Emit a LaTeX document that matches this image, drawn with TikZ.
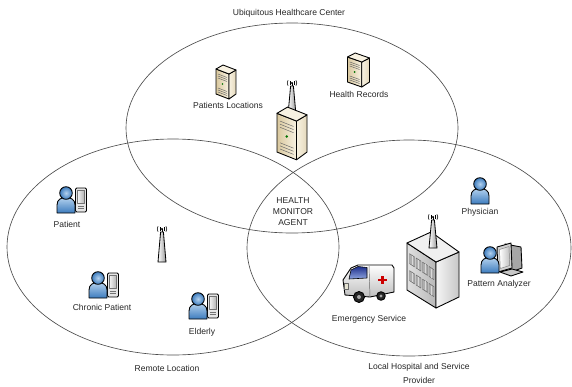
\documentclass[tikz,border=0pt]{standalone}
\usepackage{fontspec}
\setmainfont{Liberation Sans}

\definecolor{pblueL}{HTML}{B3D1EE}
\definecolor{pblueD}{HTML}{3C7BBD}
\definecolor{beigeL}{HTML}{F8F2E2}
\definecolor{beigeD}{HTML}{D9C89E}
\definecolor{glassD}{HTML}{1E2F8C}
\definecolor{glassL}{HTML}{8FA6E0}

\tikzset{
  zone/.style={draw=black!70, line width=0.55pt},
  lbl/.style={font=\fontsize{7.3}{8.8}\selectfont, text=black!85, inner sep=0pt, align=center},
  icon/.style={draw=black, line width=0.75pt, line join=round},
  thinline/.style={line width=0.4pt},
  % blue user silhouette
  pics/person/.style={code={
    \draw[icon, top color=pblueL, bottom color=pblueD]
      (-9,-13) -- (-9,-5) .. controls (-9,0.5) and (-5,2.5) .. (0,2.5)
      .. controls (5,2.5) and (9,0.5) .. (9,-5) -- (9,-13) -- cycle;
    \draw[icon, inner color=pblueL, outer color=pblueD] (0,7) circle [radius=6.3];
  }},
  % handheld device
  pics/pda/.style={code={
    \draw[icon, fill=black!10, rounded corners=1pt] (-5.5,-12) rectangle (5.5,12);
    \draw[black!55, thinline, left color=black!5, right color=black!30] (-3.5,-3) rectangle (3.5,9.5);
    \draw[black!55, thinline] (-3,-6) -- (3,-6) (-3,-8.5) -- (3,-8.5);
  }},
  pics/mobileuser/.style={code={
    \pic at (15,0) {pda};
    \pic at (0,0) {person};
  }},
  % beige tower server
  pics/server/.style={code={
    \draw[icon, left color=beigeD, right color=beigeL] (-10,-11) -- (3,-16) -- (3,9) -- (-10,14) -- cycle;
    \draw[icon, left color=beigeL, right color=beigeD!70!white] (3,-16) -- (10,-11) -- (10,13) -- (3,9) -- cycle;
    \draw[icon, fill=beigeL] (-10,14) -- (3,9) -- (10,13) -- (-3,18) -- cycle;
    \draw[black!60, thinline] (-8,9) -- (1,5.5) (-8,7) -- (1,3.5) (-8,5) -- (1,1.5);
    \fill[green!45!black] (-3.5,-1) circle [radius=0.9];
    \draw[black!60, thinline] (-8,-5) -- (1,-8.5) (-8,-7) -- (1,-10.5) (-8,-9) -- (1,-12.5);
  }},
  % radio mast, #1 = mast height
  pics/antenna/.style={code={
    \draw[icon, line width=0.7pt, left color=white, right color=black!40]
      (-4,0) -- (4,0) -- (1.4,#1) -- (-1.4,#1) -- cycle;
    \begin{scope}[shift={(0,#1+3)}]
      \draw[line width=0.8pt] (0,-3) -- (0,0);
      \fill (0,0) circle [radius=1.2];
      \draw[line width=0.45pt] (145:2.7) arc [start angle=145, end angle=215, radius=2.7];
      \draw[line width=0.45pt] (145:4.8) arc [start angle=145, end angle=215, radius=4.8];
      \draw[line width=0.45pt] (-35:2.7) arc [start angle=-35, end angle=35, radius=2.7];
      \draw[line width=0.45pt] (-35:4.8) arc [start angle=-35, end angle=35, radius=4.8];
    \end{scope}
  }},
}

\begin{document}
\begin{tikzpicture}[x=0.03cm, y=0.03cm, line join=round]
\useasboundingbox (0,0) rectangle (572,-386);

% the three overlapping zones
\draw[zone] (292,-128) ellipse [x radius=166, y radius=105];
\draw[zone] (173,-247) ellipse [x radius=166, y radius=108];
\draw[zone] (409,-248) ellipse [x radius=162, y radius=108];

% ---- healthcare center ----
\pic at (226,-83) {server};
\pic[xscale=1.1] at (358.5,-71) {server};
\pic at (292,-115) {antenna=29};
\pic[xscale=1.5, yscale=1.55] at (292,-135) {server};

% ---- remote location ----
\pic at (66,-200) {mobileuser};
\pic at (98,-285) {mobileuser};
\pic at (198,-306) {mobileuser};
\pic at (162,-262) {antenna=30};

% ---- hospital building ----
\draw[icon, left color=black!12, right color=black!28]
  (407,-243) -- (436,-262) -- (436,-308) -- (407,-290) -- cycle;
\draw[icon, left color=black!4, right color=black!22]
  (436,-262) -- (459,-252) -- (459,-297) -- (436,-308) -- cycle;
\draw[icon, fill=black!6]
  (407,-243) -- (431,-232) -- (459,-252) -- (436,-262) -- cycle;
\begin{scope}[shift={(407,-243)}, yslant=-0.655]
  \foreach \wx in {2.5,9,15.5,22}{
    \foreach \wy in {-9,-26}{
      \draw[black!60, thinline, fill=black!32] (\wx,\wy) rectangle ++(5,-10);
      \draw[black!15, thinline] (\wx+2.5,\wy-0.5) -- ++(0,-9);
    }
  }
\end{scope}
\pic at (433,-248) {antenna=28};

% ---- ambulance ----
\draw[icon, top color=white, bottom color=black!25]
  (343,-280) -- (351,-268) -- (358,-265) -- (392,-265) -- (394,-268)
  -- (394,-292) -- (370,-297) -- (345,-295) -- cycle;
\draw[black!60, thinline] (369,-266) -- (370,-297);
\draw[black, line width=0.5pt, top color=glassD, bottom color=glassL]
  (351,-270) -- (358,-266.5) -- (367,-267.5) -- (367,-278) -- (349,-279) -- cycle;
\fill[red!80!black] (381,-275.5) rectangle (383.6,-284);
\fill[red!80!black] (378,-278.5) rectangle (386.6,-281.1);
\draw[black!60, thinline, fill=yellow!40!black!20] (344.5,-283) rectangle (348.5,-289);
\draw[icon, fill=black!85] (359,-297) circle [radius=5.5];
\fill[black!35] (359,-297) circle [radius=2];
\draw[icon, fill=black!85] (381,-296) circle [radius=4.3];
\fill[black!35] (381,-296) circle [radius=1.6];

% ---- analysis workstation ----
\draw[icon, fill=black!35] (505,-244) -- (521,-247) -- (522,-268) -- (511,-272) -- cycle;
\draw[icon, fill=black!22] (500,-272) -- (512,-269) -- (523,-272) -- (511,-276) -- cycle;
\draw[icon, fill=black!18] (497,-247) -- (511,-243) -- (512,-268) -- (498,-272) -- cycle;
\draw[black!50, thinline, left color=white, right color=black!25]
  (499.5,-249.5) -- (509,-246.5) -- (509.7,-265.5) -- (500.3,-268.5) -- cycle;
\pic at (490,-260) {person};
\pic at (480,-191) {person};

% ---- labels ----
\node[lbl] (ubiq)   at (289,-13)  {Ubiquitous Healthcare Center};
\node[lbl] (ploc)   at (228,-105) {Patients Locations};
\node[lbl] (hrec)   at (359,-94)  {Health Records};
\node[lbl, font=\fontsize{7.3}{9.4}\selectfont] (hma) at (293,-212) {HEALTH\\MONITOR\\AGENT};
\node[lbl] (pat)    at (67,-224)  {Patient};
\node[lbl] (chron)  at (102,-307) {Chronic Patient};
\node[lbl] (eld)    at (202,-332) {Elderly};
\node[lbl] (emerg)  at (369,-319) {Emergency Service};
\node[lbl] (phys)   at (480,-212) {Physician};
\node[lbl] (patt)   at (499,-284) {Pattern Analyzer};
\node[lbl] (remote) at (167,-368) {Remote Location};
\node[lbl, font=\fontsize{7.3}{12.5}\selectfont] (local) at (419,-373.5) {Local Hospital and Service\\Provider};
\end{tikzpicture}
\end{document}
